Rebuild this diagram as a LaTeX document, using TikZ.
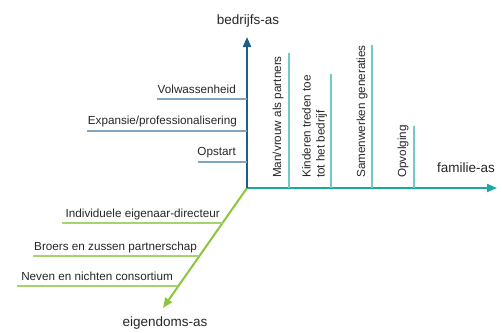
\documentclass[tikz,border=0pt]{standalone}
\usepackage{fontspec}
\setmainfont{Liberation Sans}
\usetikzlibrary{arrows.meta}

\definecolor{bedrijfC}{HTML}{1B5E86}
\definecolor{bedrijfL}{HTML}{7FA6C4}
\definecolor{familieC}{HTML}{1AA9A0}
\definecolor{familieL}{HTML}{6FCCC4}
\definecolor{eigenC}{HTML}{8CC63F}
\definecolor{eigenL}{HTML}{A6D46A}

\tikzset{
  axis/.style={line width=2pt, -{Triangle[length=10pt,width=8pt]}},
  bar/.style={line width=1.5pt},
  lbl/.style={font=\fontsize{11.7}{14}\selectfont, inner sep=0pt, text=black!85},
  axlbl/.style={font=\fontsize{13.5}{16}\selectfont, inner sep=0pt, text=black!85}
}

\begin{document}
\begin{tikzpicture}[x=1pt,y=-1pt]
  \useasboundingbox (0,0) rectangle (502,332);
  \coordinate (O) at (247,188);
  \coordinate (Btip) at (247,37);
  \coordinate (Ftip) at (497,188);
  \coordinate (Etip) at (163,308);

  % eigendoms-as
  \draw[axis, eigenC] (O) -- (Etip);
  \node[axlbl] (eigen) at (165,323) {eigendoms-as};
  \coordinate (e1) at (222.5,223); \coordinate (e1end) at (62,223);
  \coordinate (e2) at (199.4,256); \coordinate (e2end) at (33,256);
  \coordinate (e3) at (178.4,286); \coordinate (e3end) at (17,286);
  \draw[bar, eigenL] (e1) -- (e1end);
  \draw[bar, eigenL] (e2) -- (e2end);
  \draw[bar, eigenL] (e3) -- (e3end);
  \node[lbl, anchor=base east] (indiv) at (220,217) {Individuele eigenaar-directeur};
  \node[lbl, anchor=base east] (broers) at (197,250) {Broers en zussen partnerschap};
  \node[lbl, anchor=base east] (neven) at (173,280) {Neven en nichten consortium};

  % familie-as
  \draw[axis, familieC] (O) -- (Ftip);
  \node[axlbl] (familie) at (466,168) {familie-as};
  \coordinate (f1) at (289,188); \coordinate (f1top) at (289,53);
  \coordinate (f2) at (331,188); \coordinate (f2top) at (331,74);
  \coordinate (f3) at (372,188); \coordinate (f3top) at (372,45);
  \coordinate (f4) at (414,188); \coordinate (f4top) at (414,126);
  \draw[bar, familieL] (f1) -- (f1top);
  \draw[bar, familieL] (f2) -- (f2top);
  \draw[bar, familieL] (f3) -- (f3top);
  \draw[bar, familieL] (f4) -- (f4top);
  \node[lbl, rotate=90, anchor=base west] (manvrouw) at (281,178) {Man/vrouw als partners};
  \node[lbl, rotate=90, anchor=north west, align=left] (kinderen) at (302,178) {Kinderen treden toe\\tot het bedrijf};
  \node[lbl, rotate=90, anchor=base west] (samen) at (365,178) {Samenwerken generaties};
  \node[lbl, rotate=90, anchor=base west] (opvolging) at (406,178) {Opvolging};

  % bedrijfs-as
  \draw[axis, bedrijfC] (O) -- (Btip);
  \node[axlbl] (bedrijf) at (248,21) {bedrijfs-as};
  \coordinate (b1) at (247,99); \coordinate (b1end) at (157,99);
  \coordinate (b2) at (247,131); \coordinate (b2end) at (87,131);
  \coordinate (b3) at (247,162); \coordinate (b3end) at (198,162);
  \draw[bar, bedrijfL] (b1) -- (b1end);
  \draw[bar, bedrijfL] (b2) -- (b2end);
  \draw[bar, bedrijfL] (b3) -- (b3end);
  \node[lbl, anchor=base east] (volw) at (236,93) {Volwassenheid};
  \node[lbl, anchor=base east] (expansie) at (237,124) {Expansie/professionalisering};
  \node[lbl, anchor=base east] (opstart) at (236,155) {Opstart};
\end{tikzpicture}
\end{document}
